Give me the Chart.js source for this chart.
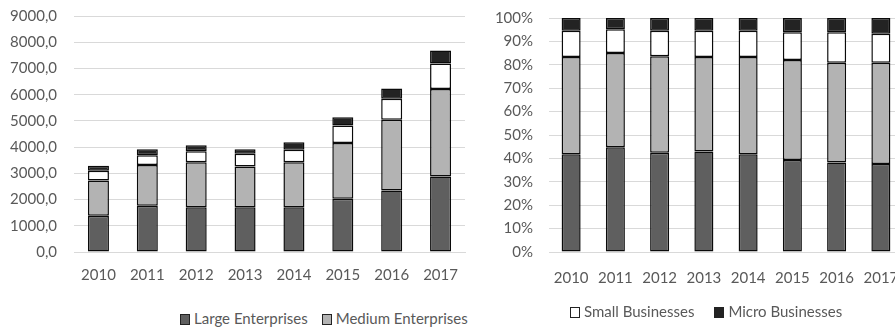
<!DOCTYPE html>
<html>
<head>
<meta charset="utf-8">
<script src="https://cdn.jsdelivr.net/npm/chart.js@4/dist/chart.umd.min.js"></script>
<style>
  html, body { margin: 0; padding: 0; background: #fff; overflow: hidden; width: 895px; height: 327px; }
  #wrap { position: relative; width: 895px; height: 327px; }
  canvas { position: absolute; top: 0; }
  #left { left: 0; }
  #right { left: 460px; }
  .legend { position: absolute; font-family: Lato, sans-serif; font-size: 15px; color: #595959; white-space: nowrap; }
  .legend span.box { display: inline-block; width: 8px; height: 9px; border: 1px solid #222; vertical-align: -1px; margin-right: 4px; }
  .legend span.item { margin-right: 14px; }
</style>
</head>
<body>
<div id="wrap">
  <canvas id="left" width="470" height="290"></canvas>
  <canvas id="right" width="450" height="290"></canvas>
  <div class="legend" style="left:180px; top:309px;">
    <span class="item"><span class="box" style="background:#5f5f5f"></span>Large Enterprises</span><span class="item"><span class="box" style="background:#b3b3b3"></span>Medium Enterprises</span>
  </div>
  <div class="legend" style="left:570px; top:302px;">
    <span class="item" style="margin-right:20px"><span class="box" style="background:#fff"></span>Small Businesses</span><span class="item"><span class="box" style="background:#232323"></span>Micro Businesses</span>
  </div>
</div>
<script>
// Data
const years = ['2010', '2011', '2012', '2013', '2014', '2015', '2016', '2017'];

const large  = [1380, 1760, 1710, 1710, 1710, 2030, 2350, 2880];
const medium = [1350, 1560, 1715, 1550, 1715, 2130, 2690, 3340];
const small  = [370, 370, 420, 485, 470, 660, 800, 965];
const micro  = [190, 230, 230, 175, 290, 320, 395, 495];

const largeShare  = [41.8, 44.8, 42.4, 43.0, 41.8, 39.3, 38.2, 37.6];
const mediumShare = [41.5, 40.2, 41.3, 40.3, 41.5, 42.7, 42.7, 43.3];
const smallShare  = [11.3, 10.2, 10.8, 11.2, 11.2, 11.9, 13.0, 12.4];
const microShare  = [5.4, 4.8, 5.5, 5.5, 5.5, 6.1, 6.1, 6.7];

const colors = ['#5f5f5f', '#b3b3b3', '#ffffff', '#232323'];
const names = ['Large Enterprises', 'Medium Enterprises', 'Small Businesses', 'Micro Businesses'];

Chart.defaults.font.family = 'Lato, sans-serif';
Chart.defaults.font.size = 15;
Chart.defaults.color = '#595959';

function makeDatasets(series) {
    return series.map((d, i) => ({
        label: names[i],
        data: d,
        backgroundColor: colors[i],
        borderColor: '#0a0a0a',
        borderWidth: 1.5,
        borderSkipped: false,
        categoryPercentage: 1,
        barPercentage: 0.43
    }));
}

function makeChart(id, series, yOpts, axisWidth, tickPad, xPad, pad) {
    new Chart(document.getElementById(id), {
        type: 'bar',
        data: { labels: years, datasets: makeDatasets(series) },
        options: {
            responsive: false,
            animation: false,
            layout: { padding: pad },
            plugins: { legend: { display: false }, tooltip: { enabled: false } },
            scales: {
                x: {
                    stacked: true,
                    grid: { display: false },
                    border: { color: '#d9d9d9' },
                    ticks: { padding: xPad },
                    afterFit: s => { s.height = 38; }
                },
                y: Object.assign({
                    stacked: true,
                    grid: { color: '#d9d9d9', drawTicks: false },
                    border: { display: false },
                    afterFit: s => {
                        s.width = axisWidth;
                        s.paddingTop = 0;
                        s.paddingBottom = 0;
                    }
                }, yOpts, { ticks: Object.assign({ padding: tickPad }, yOpts.ticks) })
            }
        }
    });
}

// Left: absolute values
makeChart('left', [large, medium, small, micro], {
    min: 0, max: 9000,
    ticks: { stepSize: 1000, callback: v => v.toFixed(1).replace('.', ',') }
}, 74, 17, 6, { top: 16, right: 5, left: 0, bottom: 0 });

// Right: 100% stacked
makeChart('right', [largeShare, mediumShare, smallShare, microShare], {
    min: 0, max: 100,
    ticks: { stepSize: 10, callback: v => v + '%' }
}, 89, 16, 9, { top: 18, right: 7, left: 0, bottom: 0 });
</script>
</body>
</html>
